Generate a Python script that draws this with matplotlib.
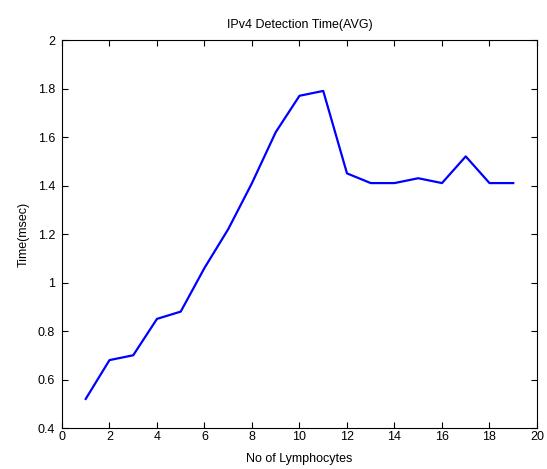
import matplotlib
matplotlib.use("Agg")
import matplotlib.pyplot as plt

lymphocytes = list(range(1, 20))
time_msec = [0.52, 0.68, 0.70, 0.85, 0.88, 1.06, 1.22, 1.41, 1.62, 1.77,
             1.79, 1.45, 1.41, 1.41, 1.43, 1.41, 1.52, 1.41, 1.41]
xticks = list(range(0, 21, 2))
yticks = [0.4, 0.6, 0.8, 1.0, 1.2, 1.4, 1.6, 1.8, 2.0]
ytick_labels = ["0.4", "0.6", "0.8", "1", "1.2", "1.4", "1.6", "1.8", "2"]

plt.rcParams['font.family'] = ['Liberation Sans', 'DejaVu Sans']

fig = plt.figure(figsize=(5.47, 4.69), dpi=100, facecolor='white')
ax = fig.add_axes([0.1133, 0.0874, 0.8684, 0.8273])
ax.plot(lymphocytes, time_msec, color='#0000ff', linewidth=1.6)
ax.set_xlim(0, 20)
ax.set_ylim(0.4, 2.0)
ax.set_xticks(xticks)
ax.set_xticklabels([str(t) for t in xticks])
ax.set_yticks(yticks)
ax.set_yticklabels(ytick_labels)
ax.tick_params(direction='in', top=True, right=True, length=4, width=0.8,
               labelsize=9)
ax.tick_params(axis='x', pad=2)
ax.tick_params(axis='y', pad=5)
for s in ax.spines.values():
    s.set_linewidth(0.8)
ax.set_xlabel("No of Lymphocytes", fontsize=9, labelpad=7)
ax.set_ylabel("Time(msec)", fontsize=9, labelpad=6)
ax.set_title("IPv4 Detection Time(AVG)", fontsize=9, pad=9)
fig.savefig("out.png", dpi=100, facecolor='white')
